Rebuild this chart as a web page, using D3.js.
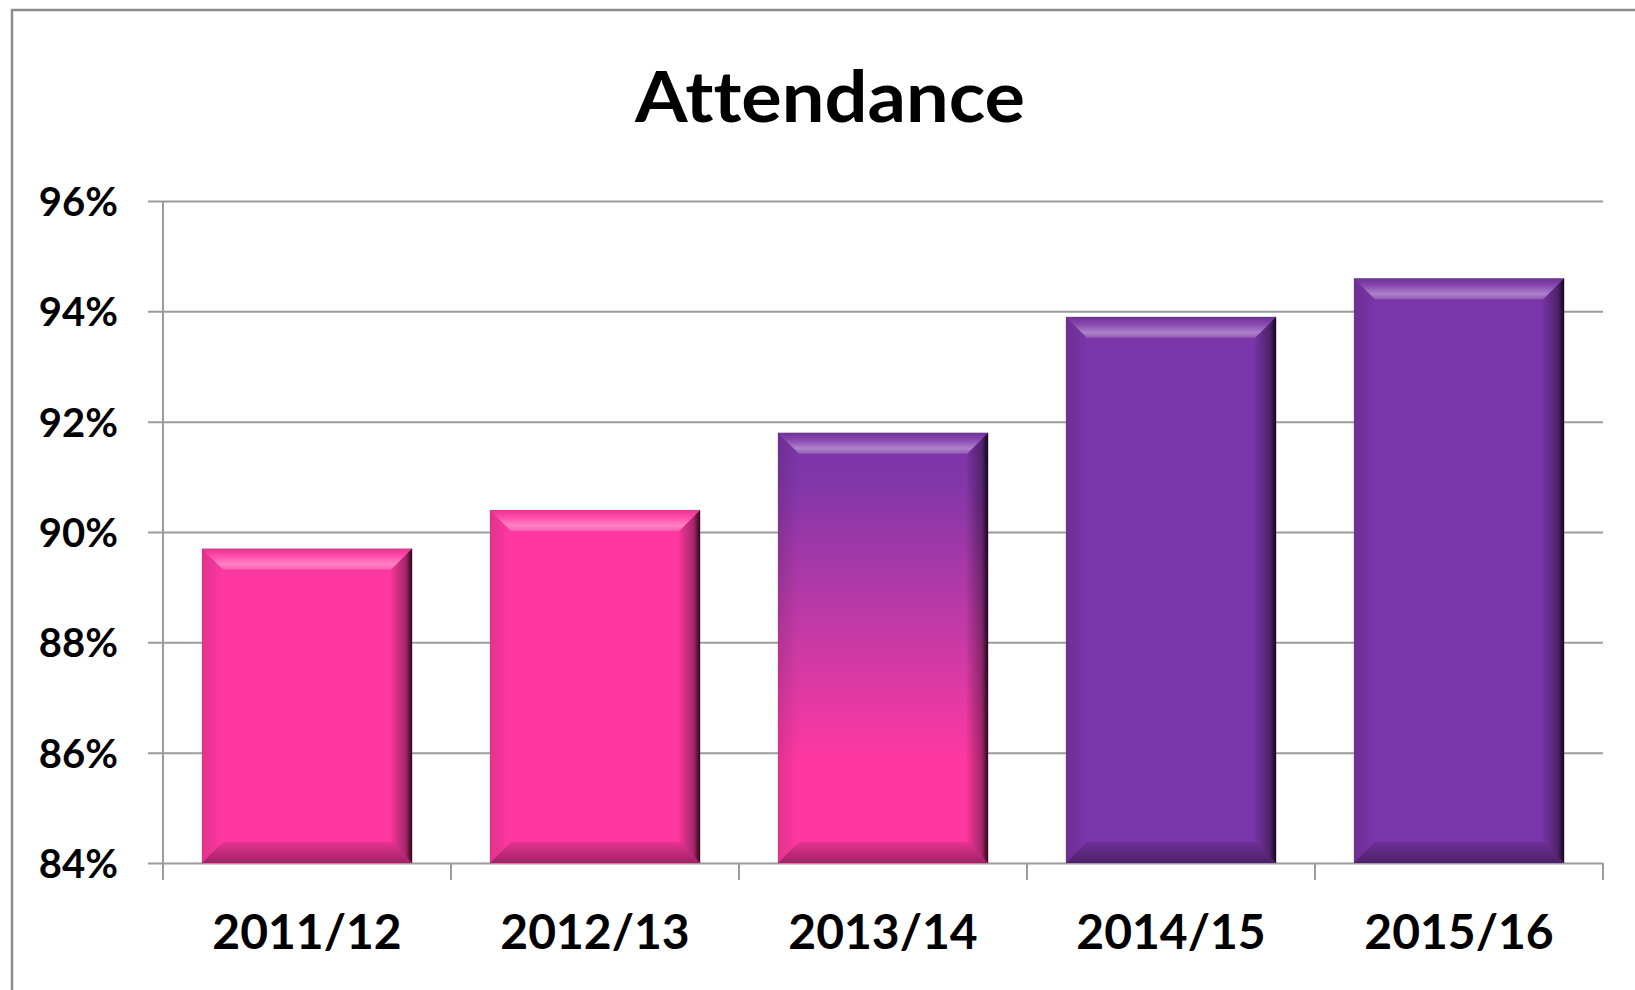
<!DOCTYPE html>
<html>
<head>
<meta charset="utf-8">
<script src="https://cdn.jsdelivr.net/npm/d3@7"></script>
<style>
  body { margin: 0; background: #fff; }
  text { font-family: Lato, "Open Sans", sans-serif; font-weight: bold; fill: #000; font-variant-ligatures: none; }
</style>
</head>
<body>
<svg id="chart"></svg>
<script>
// Attendance by school year
var categories = ["2011/12", "2012/13", "2013/14", "2014/15", "2015/16"];
var attendance = [89.7, 90.4, 91.8, 93.9, 94.6];
var yTicks = [84, 86, 88, 90, 92, 94, 96];

var svgWidth = 1635, svgHeight = 990;
var plotLeft = 163, plotRight = 1603, plotTop = 201, plotBottom = 863;
var bevel = 21;

var pink = "#ff38a1", purple = "#7a35a8";

var svg = d3.select("#chart")
    .attr("width", svgWidth)
    .attr("height", svgHeight);

var data = categories.map(function(c, i) { return {cat: c, value: attendance[i]}; });

var x = d3.scaleBand()
    .domain(categories)
    .range([plotLeft, plotRight])
    .paddingInner(0.27)
    .paddingOuter(0.135);

var y = d3.scaleLinear()
    .domain([84, 96])
    .range([plotBottom, plotTop]);

// bar fill per category
var fill = d3.scaleOrdinal()
    .domain(categories)
    .range(["url(#gPink)", "url(#gPink)", "url(#gBlend)", "url(#gPurple)", "url(#gPurple)"]);

var defs = svg.append("defs");
function grad(id, stops, horizontal) {
  var g = defs.append("linearGradient").attr("id", id)
      .attr("x1", 0).attr("y1", 0)
      .attr("x2", horizontal ? 1 : 0).attr("y2", horizontal ? 0 : 1);
  stops.forEach(function(s) {
    g.append("stop").attr("offset", s[0]).attr("stop-color", s[1]).attr("stop-opacity", s[2] == null ? 1 : s[2]);
  });
}
grad("gPink", [[0, pink], [1, pink]]);
grad("gPurple", [[0, purple], [1, purple]]);
grad("gBlend", [[0, "#7b34a9"], [0.12, "#8236a9"], [0.45, "#c23aa6"], [0.76, "#ff38a1"], [1, "#ff38a1"]]);
// bevel shading
grad("bTop", [[0, "#000", 0.1], [0.35, "#fff", 0.1], [0.75, "#fff", 0.38], [1, "#fff", 0.18]]);
grad("bBottom", [[0, "#000", 0.1], [1, "#000", 0.38]]);
grad("bLeft", [[0, "#000", 0.12], [1, "#000", 0.0]], true);
grad("bRight", [[0, "#000", 0.05], [0.7, "#000", 0.35], [1, "#000", 0.85]], true);

// frame
svg.append("rect")
    .attr("x", 12).attr("y", 10)
    .attr("width", 1700).attr("height", 1000)
    .attr("fill", "none")
    .attr("stroke", "#8c8c8c")
    .attr("stroke-width", 2.5);

// title
svg.append("text")
    .attr("x", 830).attr("y", 122)
    .attr("text-anchor", "middle")
    .attr("textLength", 390)
    .attr("lengthAdjust", "spacingAndGlyphs")
    .style("font-size", "71px")
    .text("Attendance");

// y axis with gridlines
var yAxis = svg.append("g")
    .attr("transform", "translate(148,0)")
    .call(d3.axisLeft(y)
        .tickValues(yTicks)
        .tickFormat(function(d) { return d + "%"; })
        .tickSize(-(plotRight - 148))
        .tickPadding(30));
yAxis.select(".domain").remove();
yAxis.selectAll(".tick line").attr("stroke", "#9b9b9b").attr("stroke-width", 2);
yAxis.selectAll(".tick text")
    .attr("dy", "0.36em")
    .style("font-size", "40px")
    .style("font-family", "Lato, sans-serif");

// left axis line
svg.append("line")
    .attr("x1", plotLeft).attr("x2", plotLeft)
    .attr("y1", plotTop).attr("y2", plotBottom + 17)
    .attr("stroke", "#9b9b9b").attr("stroke-width", 2);

// category boundary ticks
var bounds = categories.map(function(c) { return x(c) - x.step() * x.paddingInner() / 2; }).concat([plotRight]);
svg.selectAll(".btick")
    .data(bounds)
    .enter().append("line")
    .attr("x1", function(d) { return d; }).attr("x2", function(d) { return d; })
    .attr("y1", plotBottom).attr("y2", plotBottom + 17)
    .attr("stroke", "#9b9b9b").attr("stroke-width", 2);

// x labels
var xAxis = svg.append("g")
    .attr("transform", "translate(0," + plotBottom + ")")
    .call(d3.axisBottom(x).tickSize(0).tickPadding(52));
xAxis.select(".domain").remove();
xAxis.selectAll(".tick text")
    .attr("dy", "0.71em")
    .style("font-size", "48px")
    .style("font-family", "Lato, sans-serif");

// bars
var bars = svg.selectAll(".bar")
    .data(data)
    .enter().append("g")
    .attr("class", "bar");

bars.append("rect")
    .attr("x", function(d) { return x(d.cat); })
    .attr("y", function(d) { return y(d.value); })
    .attr("width", x.bandwidth())
    .attr("height", function(d) { return plotBottom - y(d.value); })
    .attr("fill", function(d) { return fill(d.cat); });

function pts(arr) { return arr.map(function(p) { return p.join(","); }).join(" "); }

bars.append("polygon")
    .attr("fill", "url(#bLeft)")
    .attr("points", function(d) {
      var x0 = x(d.cat), y0 = y(d.value);
      return pts([[x0, y0], [x0 + bevel, y0 + bevel], [x0 + bevel, plotBottom - bevel], [x0, plotBottom]]);
    });
bars.append("polygon")
    .attr("fill", "url(#bRight)")
    .attr("points", function(d) {
      var x1 = x(d.cat) + x.bandwidth(), y0 = y(d.value);
      return pts([[x1 - bevel, y0 + bevel], [x1, y0], [x1, plotBottom], [x1 - bevel, plotBottom - bevel]]);
    });
bars.append("polygon")
    .attr("fill", "url(#bTop)")
    .attr("points", function(d) {
      var x0 = x(d.cat), x1 = x0 + x.bandwidth(), y0 = y(d.value);
      return pts([[x0, y0], [x1, y0], [x1 - bevel, y0 + bevel], [x0 + bevel, y0 + bevel]]);
    });
bars.append("polygon")
    .attr("fill", "url(#bBottom)")
    .attr("points", function(d) {
      var x0 = x(d.cat), x1 = x0 + x.bandwidth();
      return pts([[x0 + bevel, plotBottom - bevel], [x1 - bevel, plotBottom - bevel], [x1, plotBottom], [x0, plotBottom]]);
    });
</script>
</body>
</html>
